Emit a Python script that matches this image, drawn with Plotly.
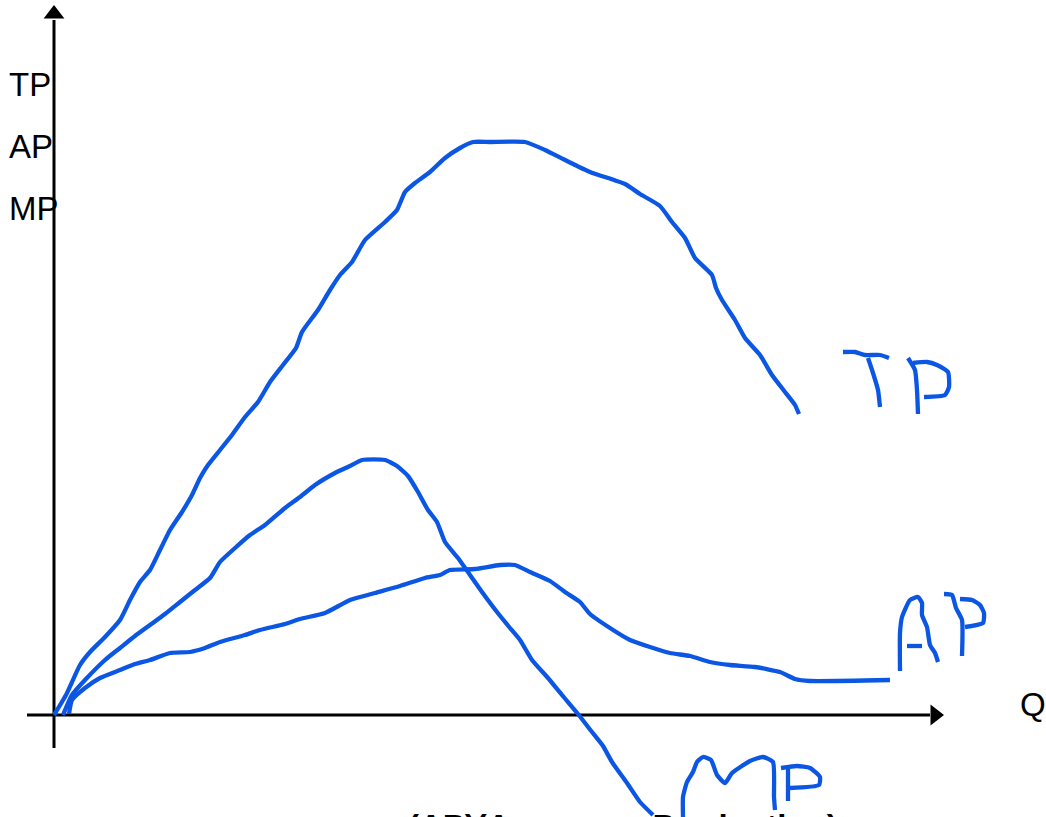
import plotly.graph_objects as go

# Quantity / output readings (Q measured from the origin, output measured up from the Q axis)
TP_Q = [0,12,26,36,51,66,76,86,96,106,116,128,138,146,154,166,178,191,204,216,229,242,248,264,276,286,298,311,331,343,351,361,376,391,406,419,436,471,491,511,536,571,586,606,618,631,641,658,662,668,681,691,706,718,731,741,745]
TP_V = [0,20,50,63,78,95,115,133,145,165,185,203,220,237,250,265,280,298,313,333,350,367,383,405,425,440,453,475,493,505,523,532,543,557,567,573,573,573,565,555,543,531,521,509,493,477,457,440,427,415,395,377,360,340,323,310,301]

MP_Q = [9,18,31,51,66,81,96,111,126,141,156,166,181,196,211,231,246,261,281,296,308,331,343,354,364,374,383,391,404,416,428,443,456,466,478,494,508,524,538,549,558,573,586,599]
MP_V = [0,20,35,55,67,79,90,101,113,125,137,153,167,180,190,207,218,230,242,249,255,255,249,239,223,205,193,173,157,140,123,103,87,75,55,37,20,1,-17,-31,-47,-68,-87,-100]

AP_Q = [15,18,31,46,66,81,96,116,136,151,166,191,206,231,246,271,296,321,346,371,386,396,421,446,461,476,496,511,526,536,556,576,596,616,636,656,676,701,726,741,756,836]
AP_V = [1,15,27,37,45,51,55,62,63,67,73,80,85,91,96,102,115,122,129,137,140,145,146,150,150,143,134,123,113,101,87,75,68,62,59,53,50,48,43,36,34,35]

# Handwritten labels, as stroke readings on the same Q / output scale
LABEL_STROKES = {
    "TP_T_bar": ([789,801,811,826,835], [363,363,360,360,357]),
    "TP_T_stem": ([814,819,824,826], [357,342,325,308]),
    "TP_P_stem": ([854,861,863,864], [357,345,325,301]),
    "TP_P_bowl": ([859,873,883,894,895,891,870], [352,353,350,343,328,320,318]),
    "AP_A": ([846,846,848,856,864,868,868,873,876,881,884], [44,82,98,115,118,112,100,88,70,62,53]),
    "AP_A_bar": ([853,868], [69,69]),
    "AP_P_stem": ([890,898,902,908,908], [121,120,107,95,59]),
    "AP_P_bowl": ([906,918,926,930,929,911], [116,115,110,102,92,88]),
    "MP_M": ([629,629,633,639,643,649,657,663,671,678,696,709,719,720,721], [-102,-82,-67,-57,-47,-42,-45,-60,-68,-58,-46,-42,-47,-82,-95]),
    "MP_P_stem": ([734,734], [-53,-86]),
    "MP_P_bowl": ([727,743,756,766,765,736], [-53,-51,-53,-62,-70,-73]),
}

AXIS_LABELS = ["TP", "AP", "MP"]
AXIS_LABEL_V = [631, 569, 507]
Q_LABEL = "Q"
CUT_TEXT = "(AP)(Average&nbsp;&nbsp;&nbsp;&nbsp;Production)"

BLUE = "#0b57e3"
fig = go.Figure()

# axes
fig.add_trace(go.Scatter(x=[-27, 876], y=[0, 0], mode="lines", line=dict(color="black", width=3), hoverinfo="skip"))
fig.add_trace(go.Scatter(x=[0, 0], y=[-33, 695], mode="lines", line=dict(color="black", width=3), hoverinfo="skip"))
fig.add_trace(go.Scatter(x=[881], y=[0], mode="markers", marker=dict(symbol="triangle-right", size=18, color="black"), hoverinfo="skip"))
fig.add_trace(go.Scatter(x=[0], y=[701], mode="markers", marker=dict(symbol="triangle-up", size=18, color="black"), hoverinfo="skip"))

# curves
for qs, vs in [(TP_Q, TP_V), (MP_Q, MP_V), (AP_Q, AP_V)]:
    fig.add_trace(go.Scatter(x=qs, y=vs, mode="lines",
                             line=dict(color=BLUE, width=4.3, shape="spline", smoothing=0.5)))

for qs, vs in LABEL_STROKES.values():
    fig.add_trace(go.Scatter(x=qs, y=vs, mode="lines",
                             line=dict(color=BLUE, width=4.3, shape="spline", smoothing=0.5)))

annots = []
for t, v in zip(AXIS_LABELS, AXIS_LABEL_V):
    annots.append(dict(x=-47, y=v, text=t, xanchor="left", yanchor="middle", showarrow=False,
                       font=dict(family="Liberation Sans", size=33, color="black")))
annots.append(dict(x=964, y=11, text=Q_LABEL, xanchor="left", yanchor="middle", showarrow=False,
                   font=dict(family="Liberation Sans", size=33, color="black")))
annots.append(dict(x=353, y=-92, text="<b>" + CUT_TEXT + "</b>", xanchor="left", yanchor="top", showarrow=False,
                   borderpad=0, font=dict(family="Liberation Sans", size=33, color="black")))

fig.update_layout(
    width=1046, height=817, margin=dict(l=0, r=0, t=0, b=0),
    paper_bgcolor="white", plot_bgcolor="white", showlegend=False, annotations=annots,
    xaxis=dict(range=[-54, 992], visible=False, fixedrange=True),
    yaxis=dict(range=[-102, 715], visible=False, fixedrange=True),
)
fig.write_html("out.html", config={"displayModeBar": False},
               post_script="document.body.style.margin='0';document.body.style.overflow='hidden';")
